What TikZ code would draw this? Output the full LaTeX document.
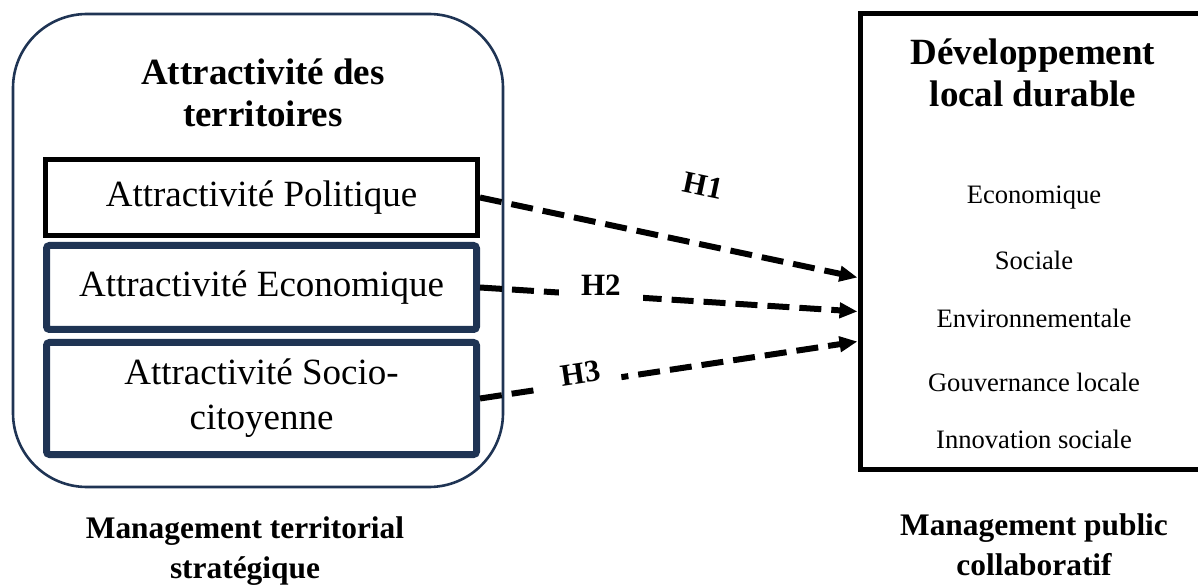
\documentclass[tikz,border=0pt]{standalone}
\usepackage{fontspec}
\setmainfont{Liberation Serif}
\usepackage{xcolor}
\usepackage{tikz}
\usetikzlibrary{arrows.meta, positioning, calc}

\definecolor{navyline}{RGB}{31,52,84}

\begin{document}
\begin{tikzpicture}[
    x=0.5pt, y=-0.5pt,
    outer/.style={rectangle, draw=navyline, line width=1.3pt, rounded corners=37pt, minimum width=245pt, minimum height=236.5pt},
    dimbox/.style={rectangle, draw=navyline, line width=3.5pt, rounded corners=1.5pt, minimum width=215pt, text centered, align=center, font=\fontsize{18.5}{22.5}\selectfont},
    title/.style={align=center, font=\bfseries\fontsize{18.5}{21}\selectfont},
    caption/.style={align=center, font=\bfseries\fontsize{15.7}{20}\selectfont},
    item/.style={anchor=base, font=\fontsize{13.3}{16}\selectfont},
    hyp/.style={line width=3pt, dash pattern=on 11pt off 5pt, -{Triangle[length=9pt,width=7.5pt]}},
    hlabel/.style={font=\bfseries\fontsize{15.5}{17}\selectfont}
]
    \useasboundingbox (0,0) rectangle (1198,587);

    % left block
    \node [outer] (attr) at (258,250.5) {};
    \node [title] (attrtitle) at (263,93) {Attractivit\'e des\\territoires};
    \node [dimbox, draw=black, line width=2.5pt, rounded corners=0pt, minimum width=216pt, minimum height=38pt] (pol) at (261.5,197.5) {Attractivit\'e Politique};
    \node [dimbox, minimum height=42pt] (eco) at (261.5,287.5) {Attractivit\'e Economique};
    \node [dimbox, minimum height=56pt] (soc) at (261.5,398.5) {Attractivit\'e Socio-\\citoyenne};
    \node [caption] (mts) at (245,551) {Management territorial\\strat\'egique};

    % right block
    \node [rectangle, draw, line width=2.5pt, minimum width=180pt, minimum height=227.5pt] (dld) at (1040,241.5) {};
    \node [title] (dldtitle) at (1033,73) {D\'eveloppement\\local durable};
    \node [item] (deco) at (1034,204) {Economique};
    \node [item] (dsoc) at (1034,270) {Sociale};
    \node [item] (denv) at (1034,328) {Environnementale};
    \node [item] (dgov) at (1034,392) {Gouvernance locale};
    \node [item] (dinn) at (1034,448) {Innovation sociale};
    \node [caption] (mpc) at (1034,545) {Management public\\collaboratif};

    % hypotheses
    \draw [hyp] (pol.east) -- ([yshift=-18pt]dld.west) node[hlabel, pos=0.56, sloped, above=19pt] {H1};
    \draw [hyp] (eco.east) -- ([yshift=-35pt]dld.west) node[hlabel, pos=0.32, fill=white, inner xsep=11pt, yshift=5pt] {H2};
    \draw [hyp] (soc.east) -- ([yshift=-50pt]dld.west) node[hlabel, pos=0.27, sloped, fill=white, inner xsep=10pt, yshift=5pt] {H3};
\end{tikzpicture}
\end{document}
